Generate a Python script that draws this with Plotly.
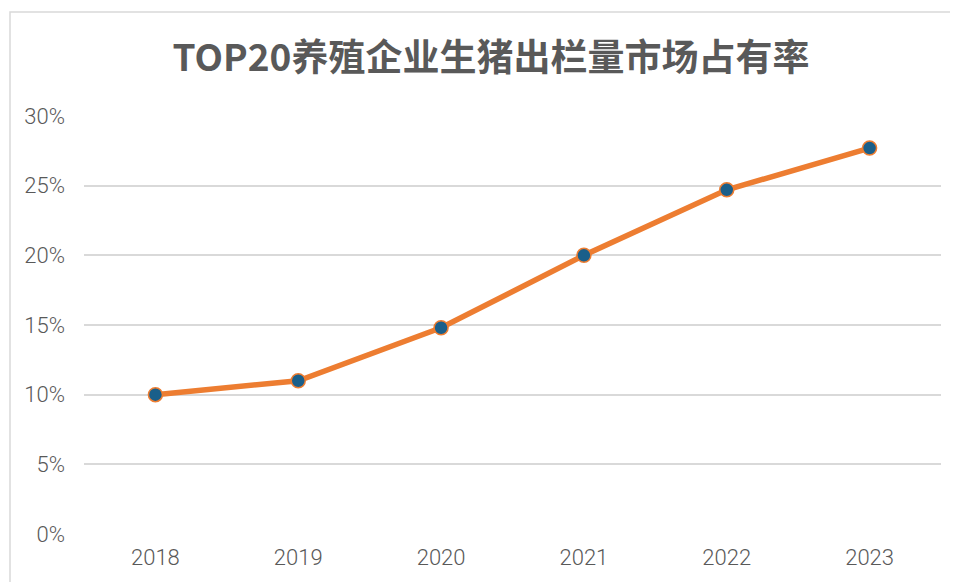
import plotly.graph_objects as go

years = ["2018", "2019", "2020", "2021", "2022", "2023"]
share = [0.100, 0.110, 0.148, 0.200, 0.247, 0.277]
y_ticks = [0, 0.05, 0.10, 0.15, 0.20, 0.25, 0.30]
y_tick_labels = ["0%", "5%", "10%", "15%", "20%", "25%", "30%"]
title_text = "TOP20养殖企业生猪出栏量市场占有率"

# page body has an 8px margin; figure placed at (8, 8)
OFF = 8
W, H = 958 - OFF, 582 - OFF
L, R, T, B = 84 - OFF, 17, 116 - OFF, 48
PW, PH = W - L - R, H - T - B

fig = go.Figure()
fig.add_trace(go.Scatter(
    x=years, y=share, mode="lines+markers",
    line=dict(color="#ED7D31", width=5.5),
    marker=dict(size=14, color="#1A5F8A", line=dict(color="#ED7D31", width=1.5)),
    showlegend=False, hoverinfo="skip",
))

fig.add_shape(type="rect", xref="paper", yref="paper",
              x0=(10 - 84) / PW, x1=1.5, y0=-0.5, y1=(534 - 12) / PH,
              line=dict(color="#D9D9D9", width=1.5), fillcolor="rgba(0,0,0,0)", layer="below")

tick_font = dict(size=22, color="#595959", family="Roboto", weight=300)

fig.update_layout(
    width=W, height=H,
    margin=dict(l=L, r=R, t=T, b=B),
    paper_bgcolor="white", plot_bgcolor="white",
    font=dict(family="Roboto", color="#595959"),
    title=dict(text="<b>" + title_text + "</b>", x=(491 - 84) / PW, xref="paper", xanchor="center",
               y=1 - (58 - OFF) / H, yanchor="middle",
               font=dict(size=37, color="#595959", family="Noto Sans CJK SC")),
    xaxis=dict(type="category", range=[-0.5, 5.5], showgrid=False, showline=False,
               zeroline=False, ticks="", tickfont=tick_font,
               ticklabelstandoff=8),
    yaxis=dict(range=[0, 0.30], tickvals=y_ticks, ticktext=y_tick_labels,
               showgrid=True, gridcolor="#D9D9D9", gridwidth=1.5, zeroline=False,
               showline=False, ticks="", tickfont=tick_font,
               ticklabelstandoff=18),
)

fig.write_html("out.html", config={"displayModeBar": False})
